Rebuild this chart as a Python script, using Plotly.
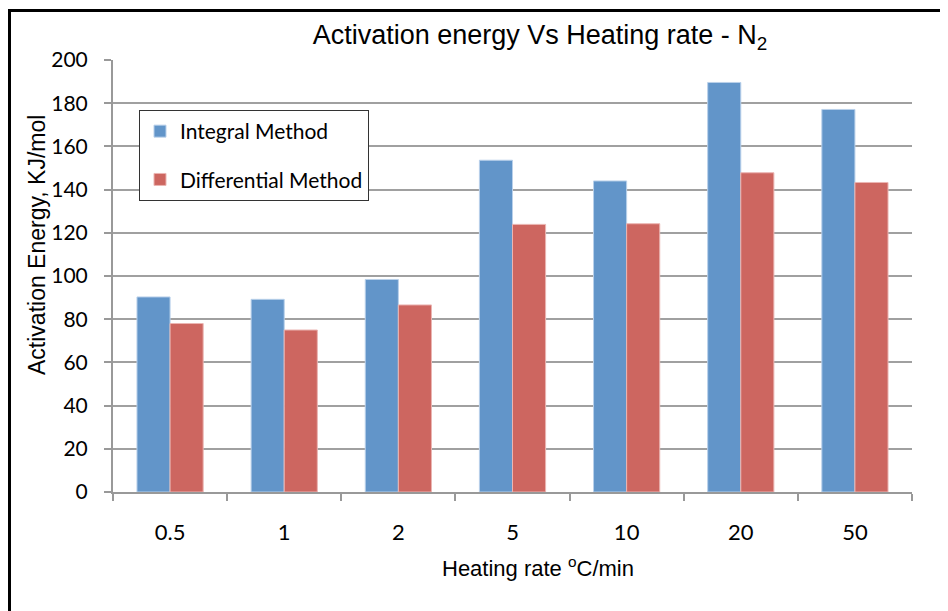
import plotly.graph_objects as go

categories = ["0.5", "1", "2", "5", "10", "20", "50"]
integral = [90.3, 89.2, 98.4, 153.6, 144.0, 189.6, 177.1]
differential = [78.0, 75.0, 86.6, 123.9, 124.2, 147.8, 143.3]

# page body has an 8px margin: figure pixel = screen pixel - 8
OFF = 8
W, H = 940, 603
L, R, T, B = 105, 36, 52, 119
pw, ph = W - L - R, H - T - B


def px_x(screen_x):
    return (screen_x - OFF - L) / pw


def px_y(screen_y):
    return (H - B - (screen_y - OFF)) / ph


fig = go.Figure()
fig.add_trace(go.Bar(x=categories, y=integral, name="Integral Method",
                     marker=dict(color="#6295C9", line=dict(color="#B9D0EA", width=1)),
                     legendgroup="a"))
fig.add_trace(go.Bar(x=categories, y=differential, name="Differential Method",
                     marker=dict(color="#CD6660", line=dict(color="#EBB5B2", width=1)),
                     legendgroup="b"))

fig.update_layout(
    width=W, height=H,
    margin=dict(l=L, r=R, t=T, b=B),
    paper_bgcolor="white", plot_bgcolor="white",
    barmode="group", bargap=0.42, bargroupgap=0,
    title=dict(text="Activation energy Vs Heating rate - N<sub>2</sub>",
               x=(540 - OFF) / W, xanchor="center", y=1 - (35 - OFF) / H, yanchor="middle",
               font=dict(family="Liberation Sans, Arial", size=27, color="black")),
    legend=dict(x=px_x(139), y=px_y(110), xanchor="left", yanchor="top",
                bordercolor="#333333", borderwidth=1, bgcolor="white",
                font=dict(family="Lato, Open Sans", size=21, color="black"),
                traceorder="grouped", tracegroupgap=18,
                itemwidth=30),
    showlegend=True,
    xaxis=dict(
        showline=True, linecolor="#999999", linewidth=2,
        ticks="outside", ticklen=7, tickcolor="#999999", tickwidth=2,
        tickson="boundaries", showgrid=False,
        tickfont=dict(family="Lato, Open Sans", size=22, color="black"),
        ticklabelstandoff=20,
    ),
    yaxis=dict(
        range=[0, 200], dtick=20,
        showline=True, linecolor="#999999", linewidth=2,
        ticks="outside", ticklen=7, tickcolor="#999999", tickwidth=2,
        showgrid=True, gridcolor="#A0A0A0", gridwidth=2,
        zeroline=False,
        tickfont=dict(family="Lato, Open Sans", size=21, color="black"),
        ticklabelstandoff=12,
    ),
    annotations=[
        dict(text="Activation Energy, KJ/mol", x=px_x(37), y=px_y(245),
             xref="paper", yref="paper", showarrow=False, textangle=-90,
             xanchor="center", yanchor="middle",
             font=dict(family="Liberation Sans, Arial", size=23, color="black")),
        dict(text="Heating rate <sup>o</sup>C/min", x=px_x(538), y=px_y(567),
             xref="paper", yref="paper", showarrow=False,
             xanchor="center", yanchor="middle",
             font=dict(family="Liberation Sans, Arial", size=22, color="black")),
    ],
)

# outer frame: only left and top edges are visible in the reference
fig.add_shape(type="line", xref="paper", yref="paper",
              x0=px_x(9.5), x1=px_x(9.5), y0=px_y(700), y1=px_y(9.5),
              line=dict(color="black", width=3), layer="above")
fig.add_shape(type="line", xref="paper", yref="paper",
              x0=px_x(8), x1=px_x(1000), y0=px_y(10.5), y1=px_y(10.5),
              line=dict(color="black", width=3), layer="above")

fig.write_html("out.html")
